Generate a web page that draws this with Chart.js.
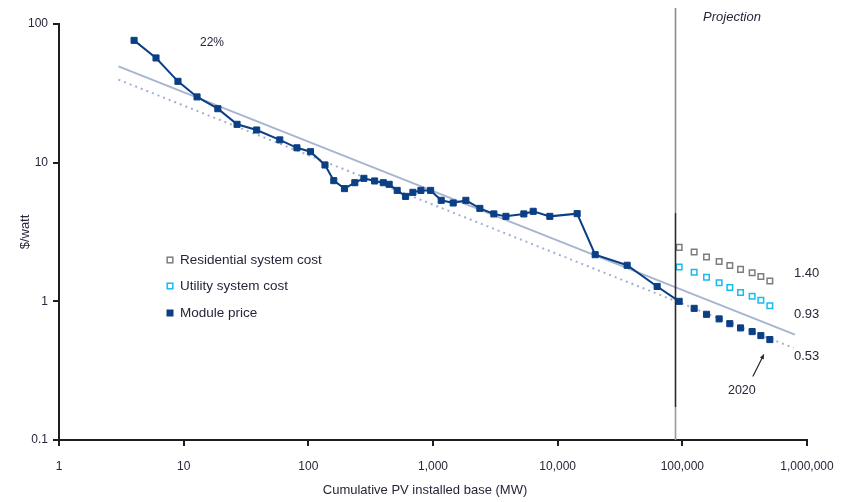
<!DOCTYPE html>
<html>
<head>
<meta charset="utf-8">
<script src="https://cdn.jsdelivr.net/npm/chart.js@4/dist/chart.umd.min.js"></script>
<style>
  html, body { margin: 0; padding: 0; background: #ffffff; }
  #wrap { width: 842px; height: 502px; }
</style>
</head>
<body>
<div id="wrap"><canvas id="pv" width="842" height="502"></canvas></div>
<script>
// Historical module price vs cumulative installed PV (MW, $/watt)
const installedBaseMW = [4, 6, 9, 12.8, 18.8, 26.8, 38.5, 59, 81, 104, 136, 160, 195, 236, 279,
  340, 399, 445, 516, 603, 690, 800, 957, 1164, 1452, 1836, 2377, 3077, 3845, 5355, 6364,
  8655, 14330, 19990, 36080, 62800, 94300];
const modulePrice = [76.2, 56.9, 38.6, 29.8, 24.5, 18.9, 17.2, 14.6, 12.8, 12.0, 9.62, 7.42,
  6.50, 7.17, 7.71, 7.38, 7.17, 6.98, 6.31, 5.71, 6.11, 6.31, 6.31, 5.35, 5.12, 5.35, 4.68,
  4.27, 4.10, 4.27, 4.46, 4.10, 4.29, 2.17, 1.82, 1.28, 1.00];

// Projected path to 2020
const projectedBaseMW = [94300, 124400, 156300, 197300, 240400, 293000, 363000, 426500, 503500];
const projectedModulePrice = [1.00, 0.89, 0.806, 0.747, 0.69, 0.643, 0.605, 0.566, 0.53];
const residentialCost = [2.45, 2.27, 2.09, 1.94, 1.81, 1.70, 1.61, 1.51, 1.40];
const utilityCost = [1.77, 1.62, 1.49, 1.36, 1.26, 1.16, 1.09, 1.02, 0.93];

// 22% learning-rate fit lines
const fitBaseMW = [3, 800000];
const fitPrice = [49.5, 0.575];
const lowerFitBaseMW = [3, 780000];
const lowerFitPrice = [39.7, 0.461];

const projectionStartMW = 88000;
const learningRateLabel = '22%';
const projectionLabel = 'Projection';
const finalYearLabel = '2020';
const xAxisTitle = 'Cumulative PV installed base (MW)';

const xTickValues = [1, 10, 100, 1000, 10000, 100000, 1000000];
const xTickLabels = ['1', '10', '100', '1,000', '10,000', '100,000', '1,000,000'];
const yTickValues = [0.1, 1, 10, 100];
const yTickLabels = ['0.1', '1', '10', '100'];

const seriesNames = ['Residential system cost', 'Utility system cost', 'Module price'];

const NAVY = '#0b3f85';
const GREY = '#7d7d7d';
const CYAN = '#14bcef';
const TEXT = '#26263a';
const AXIS = '#1e1e1e';
const FONT = "'Liberation Sans', Arial, Helvetica, sans-serif";

const pts = (xs, ys) => xs.map((x, i) => ({ x: x, y: ys[i] }));

// Module price: history joined by a line, projection as loose markers
const moduleSeries = pts(installedBaseMW, modulePrice)
  .concat(pts(projectedBaseMW.slice(1), projectedModulePrice.slice(1)));
const lastHistoricIndex = installedBaseMW.length - 1;

const overlay = {
  id: 'overlay',
  afterDraw(chart) {
    const ctx = chart.ctx;
    const xs = chart.scales.x, ys = chart.scales.y;
    ctx.save();

    // projection divider
    const vx = Math.round(xs.getPixelForValue(projectionStartMW)) + 0.5;
    const seg = (y0, y1, c) => {
      ctx.beginPath(); ctx.strokeStyle = c; ctx.lineWidth = 1.6;
      ctx.moveTo(vx, y0); ctx.lineTo(vx, y1); ctx.stroke();
    };
    seg(8, 213, '#8c8c8c');
    seg(213, 407, '#2a2a2a');
    seg(407, chart.chartArea.bottom, '#9a9a9a');

    ctx.fillStyle = TEXT;
    ctx.textBaseline = 'middle';
    ctx.textAlign = 'center';
    ctx.font = 'italic 13px ' + FONT;
    ctx.fillText(projectionLabel, 732, 17);
    ctx.font = '12px ' + FONT;
    ctx.fillText(learningRateLabel, 212, 43);

    // x-axis title, set slightly left of the plot centre
    ctx.font = '13px ' + FONT;
    ctx.fillText(xAxisTitle, 425, 490);

    // legend
    const legendX = 170, legendRows = [260, 286, 313];
    const styles = [
      { stroke: GREY, fill: null },
      { stroke: CYAN, fill: null },
      { stroke: NAVY, fill: NAVY }
    ];
    ctx.textAlign = 'left';
    ctx.font = '13.5px ' + FONT;
    seriesNames.forEach((name, i) => {
      const y = legendRows[i], s = styles[i];
      if (s.fill) {
        ctx.fillStyle = s.fill;
        ctx.fillRect(legendX - 3.5, y - 3.5, 7, 7);
      } else {
        ctx.strokeStyle = s.stroke; ctx.lineWidth = 1.5;
        ctx.strokeRect(legendX - 2.8, y - 2.8, 5.6, 5.6);
      }
      ctx.fillStyle = TEXT;
      ctx.fillText(name, 180, y);
    });

    // end-of-projection values
    const lx = 794;
    const lastX = xs.getPixelForValue(projectedBaseMW[projectedBaseMW.length - 1]);
    const ends = [
      { v: residentialCost[residentialCost.length - 1], dy: -8 },
      { v: utilityCost[utilityCost.length - 1], dy: 9 },
      { v: projectedModulePrice[projectedModulePrice.length - 1], dy: 17 }
    ];
    ctx.font = '13px ' + FONT;
    ends.forEach(e => {
      ctx.fillText(e.v.toFixed(2), lx, ys.getPixelForValue(e.v) + e.dy);
    });

    // 2020 pointer
    const py = ys.getPixelForValue(projectedModulePrice[projectedModulePrice.length - 1]);
    const tip = { x: lastX - 6, y: py + 15 };
    const tail = { x: lastX - 17, y: py + 37 };
    ctx.strokeStyle = '#222'; ctx.lineWidth = 1.2;
    ctx.beginPath(); ctx.moveTo(tail.x, tail.y); ctx.lineTo(tip.x, tip.y); ctx.stroke();
    const ang = Math.atan2(tip.y - tail.y, tip.x - tail.x);
    ctx.fillStyle = '#222';
    ctx.beginPath();
    ctx.moveTo(tip.x, tip.y);
    ctx.lineTo(tip.x - 5 * Math.cos(ang - 0.45), tip.y - 5 * Math.sin(ang - 0.45));
    ctx.lineTo(tip.x - 5 * Math.cos(ang + 0.45), tip.y - 5 * Math.sin(ang + 0.45));
    ctx.closePath(); ctx.fill();
    ctx.fillStyle = TEXT;
    ctx.textAlign = 'center';
    ctx.font = '12.5px ' + FONT;
    ctx.fillText(finalYearLabel, lastX - 28, py + 51);

    ctx.restore();
  }
};

new Chart(document.getElementById('pv'), {
  type: 'scatter',
  data: {
    datasets: [
      {
        label: seriesNames[2],
        data: moduleSeries,
        showLine: true,
        borderColor: NAVY,
        borderWidth: 2,
        backgroundColor: NAVY,
        pointStyle: 'rect',
        pointRadius: 4.3,
        pointBorderWidth: 1,
        pointBackgroundColor: NAVY,
        pointBorderColor: NAVY,
        segment: {
          borderColor: c => c.p0DataIndex >= lastHistoricIndex ? 'rgba(0,0,0,0)' : NAVY
        },
        order: 0
      },
      {
        label: seriesNames[0],
        data: pts(projectedBaseMW, residentialCost),
        showLine: false,
        pointStyle: 'rect',
        pointRadius: 3.9,
        pointBorderWidth: 1.5,
        pointBackgroundColor: '#ffffff',
        pointBorderColor: GREY,
        order: 1
      },
      {
        label: seriesNames[1],
        data: pts(projectedBaseMW, utilityCost),
        showLine: false,
        pointStyle: 'rect',
        pointRadius: 3.9,
        pointBorderWidth: 1.5,
        pointBackgroundColor: '#ffffff',
        pointBorderColor: CYAN,
        order: 1
      },
      {
        label: 'fit',
        data: pts(fitBaseMW, fitPrice),
        showLine: true,
        borderColor: 'rgba(150,168,200,0.85)',
        borderWidth: 2,
        pointRadius: 0,
        order: 2
      },
      {
        label: 'lower fit',
        data: pts(lowerFitBaseMW, lowerFitPrice),
        showLine: true,
        borderColor: 'rgba(150,168,205,0.9)',
        borderWidth: 2,
        borderDash: [2, 4],
        pointRadius: 0,
        order: 3
      }
    ]
  },
  options: {
    responsive: false,
    animation: false,
    devicePixelRatio: 1,
    layout: { padding: { top: 24, right: 35, bottom: 0, left: 0 } },
    plugins: { legend: { display: false }, tooltip: { enabled: false } },
    scales: {
      x: {
        type: 'logarithmic',
        position: 'bottom',
        min: 1,
        max: 1000000,
        afterBuildTicks: a => { a.ticks = xTickValues.map(v => ({ value: v })); },
        afterFit: s => { s.height = 62; s.paddingRight = 0; s.paddingLeft = 0; },
        ticks: {
          callback: (v, i) => xTickLabels[i],
          color: TEXT,
          font: { family: FONT, size: 12 },
          padding: 13,
          maxRotation: 0,
          autoSkip: false
        },
        grid: { drawOnChartArea: false, drawTicks: true, tickLength: 6, color: AXIS, lineWidth: 2 },
        border: { display: true, color: AXIS, width: 2 },
        title: { display: false }
      },
      y: {
        type: 'logarithmic',
        position: 'left',
        min: 0.1,
        max: 100,
        afterBuildTicks: a => { a.ticks = yTickValues.map(v => ({ value: v })); },
        afterFit: s => { s.width = 59; },
        ticks: {
          callback: (v, i) => yTickLabels[i],
          color: TEXT,
          font: { family: FONT, size: 12 },
          padding: 5,
          autoSkip: false
        },
        grid: { drawOnChartArea: false, drawTicks: true, tickLength: 6, color: AXIS, lineWidth: 2 },
        border: { display: true, color: AXIS, width: 2 },
        title: {
          display: true,
          text: '$/watt',
          color: TEXT,
          font: { family: FONT, size: 13 },
          padding: { top: 18, bottom: 0 }
        }
      }
    }
  },
  plugins: [overlay]
});
</script>
</body>
</html>
